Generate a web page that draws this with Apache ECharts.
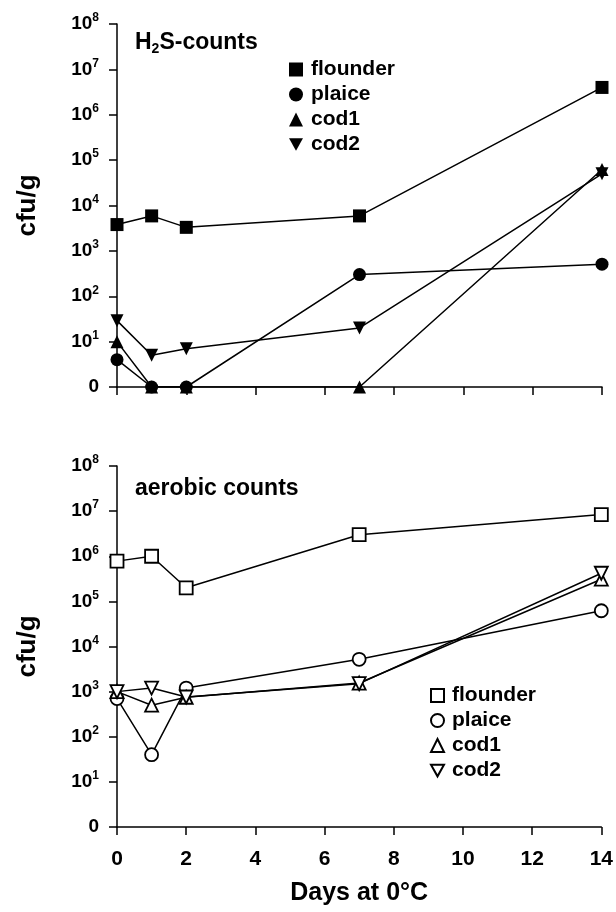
<!DOCTYPE html>
<html>
<head>
<meta charset="utf-8">
<script src="https://cdn.jsdelivr.net/npm/echarts@6/dist/echarts.min.js"></script>
<style>
  html, body { margin: 0; padding: 0; background: #fff; }
  #chart { width: 616px; height: 912px; }
</style>
</head>
<body>
<div id="chart"></div>
<script>
// sampling days
const days = [0, 1, 2, 7, 14]
const seriesNames = ['flounder', 'plaice', 'cod1', 'cod2']

// H2S-producing counts, cfu/g (0 = below detection)
const h2sFlounder = [3800, 5900, 3300, 5900, 4000000]
const h2sPlaice = [4, 0, 0, 300, 510]
const h2sCod1 = [10, 0, 0, 0, 62000]
const h2sCod2 = [29, 5, 7, 20, 50000]

// aerobic counts, cfu/g
const aerFlounder = [780000, 1000000, 200000, 3000000, 8400000]
const aerPlaice = [700, 40, 1200, 5200, 62000]
const aerCod1 = [1000, 500, 750, 1550, 310000]
const aerCod2 = [1000, 1200, 760, 1500, 420000]

// y tick exponents (0 shown as "0", others as 10^n)
const yExponents = [0, 1, 2, 3, 4, 5, 6, 7, 8]
const xTicks = [0, 2, 4, 6, 8, 10, 12, 14]

const FONT = 'Liberation Sans'
const symbols = ['rect', 'circle', 'triangle', 'triangle']
const rotations = [0, 0, 0, 180]
const legendIcons = ['rect', 'circle', 'triangle', 'path://M0,0L10,0L5,9Z']

function toLog(v) {
  return v > 0 ? Math.log10(v) : 0
}

function pairs(values) {
  return values.map((v, i) => [days[i], toLog(v)])
}

function yAxis(gridIndex) {
  return {
    type: 'value',
    gridIndex,
    min: yExponents[0],
    max: yExponents[yExponents.length - 1],
    interval: 1,
    name: 'cfu/g',
    nameLocation: 'middle',
    nameGap: 76,
    nameTextStyle: { fontFamily: FONT, fontWeight: 'bold', fontSize: 26, color: '#000' },
    axisLine: { show: true, lineStyle: { color: '#000', width: 1.5 } },
    axisTick: { show: true, length: 8, lineStyle: { color: '#000', width: 1.5 } },
    splitLine: { show: false },
    axisLabel: {
      margin: 18,
      formatter: v => v === 0 ? '{b|0}' : '{b|10}{s|' + v + '}',
      rich: {
        b: { fontFamily: FONT, fontWeight: 'bold', fontSize: 19, color: '#000', lineHeight: 24 },
        s: { fontFamily: FONT, fontWeight: 'bold', fontSize: 12, color: '#000', lineHeight: 12, verticalAlign: 'top' }
      }
    }
  }
}

function xAxis(gridIndex, showLabels) {
  return {
    type: 'value',
    gridIndex,
    min: xTicks[0],
    max: xTicks[xTicks.length - 1],
    interval: 2,
    name: showLabels ? 'Days at 0°C' : '',
    nameLocation: 'middle',
    nameGap: 54,
    nameTextStyle: { fontFamily: FONT, fontWeight: 'bold', fontSize: 25, color: '#000' },
    axisLine: { show: true, onZero: false, lineStyle: { color: '#000', width: 1.5 } },
    axisTick: { show: true, length: 8, lineStyle: { color: '#000', width: 1.5 } },
    splitLine: { show: false },
    axisLabel: {
      show: showLabels,
      margin: 22,
      fontFamily: FONT,
      fontWeight: 'bold',
      fontSize: 21,
      color: '#000'
    }
  }
}

function makeSeries(name, values, idx, panel) {
  const filled = panel === 0
  return {
    name,
    type: 'line',
    xAxisIndex: panel,
    yAxisIndex: panel,
    data: pairs(values),
    symbol: symbols[idx],
    symbolRotate: rotations[idx],
    symbolSize: 13,
    showAllSymbol: true,
    lineStyle: { color: '#000', width: 1.5 },
    itemStyle: filled
      ? { color: '#000', borderColor: '#000', borderWidth: 0 }
      : { color: '#fff', borderColor: '#000', borderWidth: 1.8 },
    emphasis: { disabled: true }
  }
}

function legendData(filled) {
  return seriesNames.map((n, i) => ({
    name: n,
    icon: legendIcons[i],
    itemStyle: filled
      ? { color: '#000', borderWidth: 0 }
      : { color: '#fff', borderColor: '#000', borderWidth: 2 }
  }))
}

const legendText = { fontFamily: FONT, fontWeight: 'bold', fontSize: 21, color: '#000', padding: [0, 0, 0, 3], lineHeight: 20 }

const chart = echarts.init(document.getElementById('chart'))

chart.setOption({
  animation: false,
  backgroundColor: '#fff',
  title: [{
    text: '{a|H}{sub|2}{a|S-counts}',
    left: 135,
    top: 30,
    padding: 0,
    textStyle: {
      rich: {
        a: { fontFamily: FONT, fontWeight: 'bold', fontSize: 23, color: '#000', lineHeight: 26 },
        sub: { fontFamily: FONT, fontWeight: 'bold', fontSize: 14, color: '#000', lineHeight: 14, verticalAlign: 'bottom' }
      }
    }
  }, {
    text: 'aerobic counts',
    left: 135,
    top: 476,
    padding: 0,
    textStyle: { fontFamily: FONT, fontWeight: 'bold', fontSize: 23, color: '#000', lineHeight: 26 }
  }],
  legend: [{
    orient: 'vertical',
    left: 289,
    top: 59,
    padding: 0,
    itemWidth: 14,
    itemHeight: 14,
    itemGap: 4,
    selectedMode: false,
    textStyle: legendText,
    data: legendData(true)
  }, {
    orient: 'vertical',
    left: 430,
    top: 685,
    padding: 0,
    itemWidth: 13,
    itemHeight: 13,
    itemGap: 4,
    selectedMode: false,
    textStyle: legendText,
    data: legendData(false)
  }],
  grid: [
    { left: 117, width: 485, top: 24, height: 363 },
    { left: 117, width: 485, top: 466, height: 361 }
  ],
  xAxis: [xAxis(0, false), xAxis(1, true)],
  yAxis: [yAxis(0), yAxis(1)],
  series: [
    makeSeries('flounder', h2sFlounder, 0, 0),
    makeSeries('plaice', h2sPlaice, 1, 0),
    makeSeries('cod1', h2sCod1, 2, 0),
    makeSeries('cod2', h2sCod2, 3, 0),
    makeSeries('flounder', aerFlounder, 0, 1),
    makeSeries('plaice', aerPlaice, 1, 1),
    makeSeries('cod1', aerCod1, 2, 1),
    makeSeries('cod2', aerCod2, 3, 1)
  ]
})
</script>
</body>
</html>
